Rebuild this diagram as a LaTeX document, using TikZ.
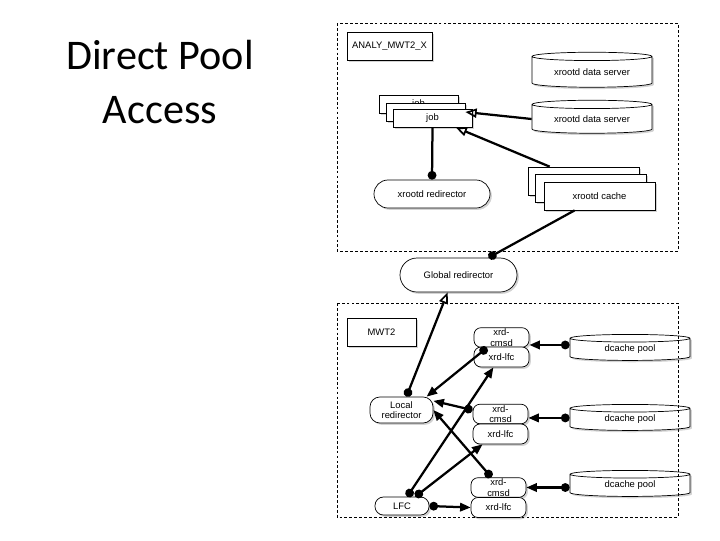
\documentclass[tikz,border=0pt]{standalone}
\usepackage{fontspec}
\setmainfont{Liberation Sans}
\newfontfamily\titlefont{Carlito}
\usetikzlibrary{arrows.meta, shapes.geometric, shapes.misc, shadows}

\tikzset{
  dot/.tip={Circle[length=6.2pt]},
  head/.tip={Triangle[length=7.5pt,width=6pt]},
  openhead/.tip={Triangle[open,length=8pt,width=6.5pt,line width=1.2pt]}
}

\begin{document}
\begin{tikzpicture}[x=0.025cm, y=-0.025cm, font=\fontsize{6.7}{7.4}\selectfont,
 every node/.style={inner sep=0pt},
 box/.style={draw, fill=white, line width=0.5pt,
   drop shadow={shadow xshift=1.3pt, shadow yshift=-1.3pt, opacity=0.35}},
 sheet/.style={box, minimum width=1.975cm, minimum height=0.45cm},
 pill/.style={box, rounded rectangle},
 tab/.style={box, rounded corners=5pt, minimum width=1.375cm, minimum height=0.49cm, align=center},
 disk/.style={box, cylinder, shape border rotate=90, aspect=0.11,
   minimum width=3cm, minimum height=0.65cm},
 link/.style={line width=1.6pt},
 region/.style={dash pattern=on 2pt off 1.5pt, line width=0.5pt}]
  \useasboundingbox (0,0) rectangle (720,540);

  \node[font=\titlefont\fontsize{30}{37.7}\selectfont, align=center] (title) at (160,82) {Direct Pool\\Access};

  % upper site
  \node[box, minimum width=2.125cm, minimum height=0.7cm] (analy) at (389.5,46) {ANALY\_MWT2\_X};
  \node[disk, minimum height=0.875cm] (ds1) at (592,72) {xrootd data server};
  \node[disk, minimum height=0.825cm] (ds2) at (592,119) {xrootd data server};
  \foreach \n/\x/\y/\t in {C/418.5/104/job, B/425.5/112/, A/432.5/118/job}
    \node[sheet] (job\n) at (\x,\y) {\t};
  \node[pill, minimum width=2.9cm, minimum height=0.7cm] (xredir) at (432,194) {xrootd redirector};
  \foreach \n/\x/\y/\t in {C/583.5/181/, B/590.5/188/, A/599.5/196/xrootd cache}
    \node[sheet, minimum width=2.775cm, minimum height=0.7cm] (cache\n) at (\x,\y) {\t};

  \node[pill, minimum width=2.925cm, minimum height=0.85cm] (glob) at (458.5,275) {Global redirector};

  % lower site
  \node[box, minimum width=1.725cm, minimum height=0.7cm] (mwt) at (381.5,332) {MWT2};
  \foreach \n/\x/\y/\z/\p in {1/501.5/337.5/357/349.5, 2/500.5/414/434/419.5, 3/498.5/487.5/507.5/485.5} {
    \node[tab] (cmsd\n) at (\x,\y) {xrd-\\cmsd};
    \node[tab, minimum height=0.5cm] (xlfc\n) at (\x,\z) {xrd-lfc};
    \node[disk, aspect=0.15] (pool\n) at (630,\p) {dcache pool};
  }
  \node[tab, minimum width=1.575cm, minimum height=0.65cm, rounded corners=7pt] (lred) at (401.5,410) {Local\\redirector};
  \node[tab, minimum width=1.35cm, minimum height=0.45cm, rounded corners=6pt] (lfcsrv) at (402,506) {LFC};

  % connections
  \draw[link, -openhead] (ds2.west) -- (jobB.east);
  \draw[link, -openhead] (cacheC.157) -- (jobA.-22);
  \draw[link, -dot] (jobA.south) -- (xredir.north);
  \draw[link, -dot] (cacheA.-150) -- (glob.30);

  \draw[link, dot-openhead] (lred.70) -- (glob.-122);
  \draw[link, dot-head] (cmsd1.-145) -- (lred.28);
  \draw[link, dot-head] (cmsd2.172) -- (lred.16);
  \draw[link, dot-head] (cmsd3.125) -- (lred.east);
  \draw[link, dot-head] (lfcsrv.61) -- (xlfc1.-128);
  \draw[link, dot-head] (lfcsrv.35) -- (xlfc2.-150);
  \draw[link, dot-head] (lfcsrv.east) -- (xlfc3.west);
  \foreach \n/\a in {1/-15, 2/-8, 3/0}
    \draw[link, dot-head] (pool\n.west |- cmsd\n.\a) -- (cmsd\n.\a);

  \draw[region] (337,23) rectangle (678,251);
  \draw[region] (337,303) rectangle (678,517);
\end{tikzpicture}
\end{document}
